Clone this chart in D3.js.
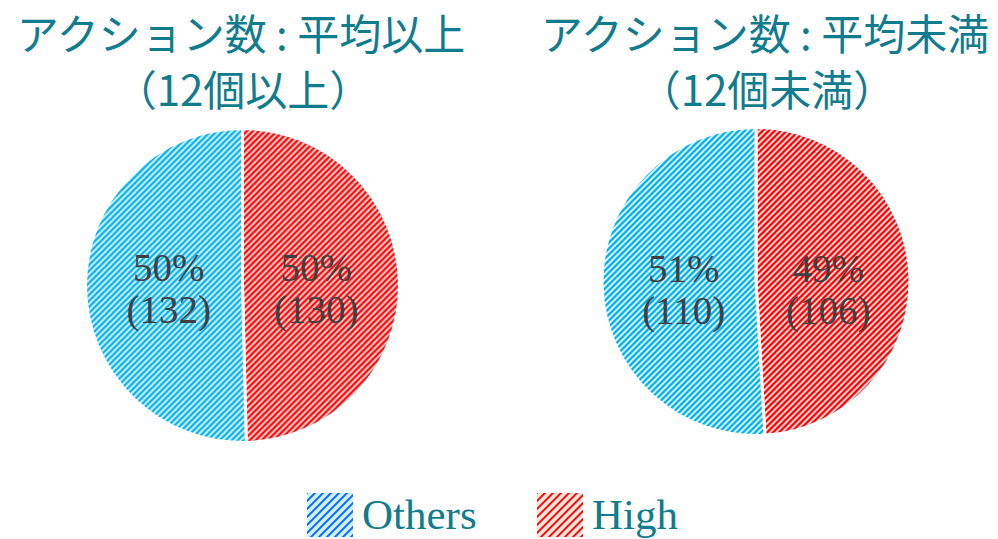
<!DOCTYPE html>
<html lang="ja">
<head>
<meta charset="utf-8">
<script src="https://cdn.jsdelivr.net/npm/d3@7"></script>
<style>
  html, body { margin: 0; padding: 0; background: #ffffff; }
  svg { display: block; }
</style>
</head>
<body>
<svg id="chart" width="998" height="539"></svg>
<script>
// Two pie charts: share of High vs Others, split by action count
const titleLine1 = ["アクション数 : 平均以上", "アクション数 : 平均未満"];
const titleLine2 = ["（12個以上）", "（12個未満）"];
const categories = ["High", "Others"];
const highCounts = [130, 106];
const otherCounts = [132, 110];
const legendOrder = ["Others", "High"];

const svg = d3.select("#chart");
const titleColor = "#117c8e";

// layout of each pie (centre, radius, title x, label baseline)
const pies = [
  { cx: 242.5, cy: 285.5, r: 157, tx: 241, ly: 281 },
  { cx: 756, cy: 281.5, r: 154, tx: 765, ly: 282 }
];

// stripe fills
const defs = svg.append("defs");
function stripe(id, size, bg, fg, width) {
  const p = defs.append("pattern")
    .attr("id", id)
    .attr("patternUnits", "userSpaceOnUse")
    .attr("width", size).attr("height", size);
  p.append("rect").attr("width", size).attr("height", size).attr("fill", bg);
  p.append("path")
    .attr("d", `M-1,1 L1,-1 M0,${size} L${size},0 M${size - 1},${size + 1} L${size + 1},${size - 1}`)
    .attr("stroke", fg).attr("stroke-width", width).attr("fill", "none");
}
stripe("fill-others", 6, "#ffffff", "#00b0f0", 2.6);
stripe("fill-high", 6, "#ffffff", "#ff0000", 2.6);
stripe("key-others", 8, "#cdeeff", "#0066ff", 1.9);
stripe("key-high", 8, "#fce4d6", "#ff0000", 1.9);

const color = d3.scaleOrdinal()
  .domain(categories)
  .range(["url(#fill-high)", "url(#fill-others)"]);
const keyFill = d3.scaleOrdinal()
  .domain(categories)
  .range(["url(#key-high)", "url(#key-others)"]);

const pie = d3.pie().sort(null).value(d => d.value);

pies.forEach((cfg, i) => {
  const data = [
    { cat: "High", value: highCounts[i] },
    { cat: "Others", value: otherCounts[i] }
  ];
  const total = d3.sum(data, d => d.value);
  const arcs = pie(data);
  const arc = d3.arc().innerRadius(0).outerRadius(cfg.r);
  const labelArc = d3.arc().innerRadius(cfg.r * 0.47).outerRadius(cfg.r * 0.47);

  const g = svg.append("g").attr("transform", `translate(${cfg.cx},${cfg.cy})`);

  g.selectAll("path.slice")
    .data(arcs)
    .join("path")
    .attr("class", "slice")
    .attr("d", arc)
    .attr("fill", d => color(d.data.cat))
    .attr("stroke", "#ffffff")
    .attr("stroke-width", 3);

  // value labels: horizontal position from the slice centroid, shared baseline
  const lbl = g.selectAll("text.value")
    .data(arcs)
    .join("text")
    .attr("class", "value")
    .attr("text-anchor", "middle")
    .attr("font-family", "'Liberation Serif', 'DejaVu Serif', serif")
    .attr("font-size", 39)
    .attr("fill", "#404040")
    .attr("transform", d => `translate(${labelArc.centroid(d)[0]},${cfg.ly - cfg.cy})`);
  lbl.append("tspan")
    .attr("x", 0).attr("y", 0)
    .text(d => `${Math.round(d.data.value / total * 100)}%`);
  lbl.append("tspan")
    .attr("x", 0).attr("y", 42)
    .text(d => `(${d.data.value})`);

  // title
  const t = svg.append("text")
    .attr("text-anchor", "middle")
    .attr("font-family", "'Noto Sans CJK JP', 'Noto Sans CJK SC', sans-serif")
    .attr("font-size", 42)
    .attr("fill", titleColor);
  t.append("tspan").attr("x", cfg.tx).attr("y", 50).text(titleLine1[i]);
  t.append("tspan").attr("x", cfg.tx + 2).attr("y", 106).text(titleLine2[i]);
});

// legend
const legendX = d3.scalePoint().domain(legendOrder).range([307, 537]);
const leg = svg.append("g")
  .selectAll("g")
  .data(legendOrder)
  .join("g")
  .attr("transform", d => `translate(${legendX(d)},493)`);
leg.append("rect")
  .attr("width", 46).attr("height", 44)
  .attr("fill", d => keyFill(d));
leg.append("text")
  .attr("x", 55).attr("y", 36)
  .attr("font-family", "'Liberation Serif', 'DejaVu Serif', serif")
  .attr("font-size", 43)
  .attr("fill", titleColor)
  .text(d => d);
</script>
</body>
</html>
